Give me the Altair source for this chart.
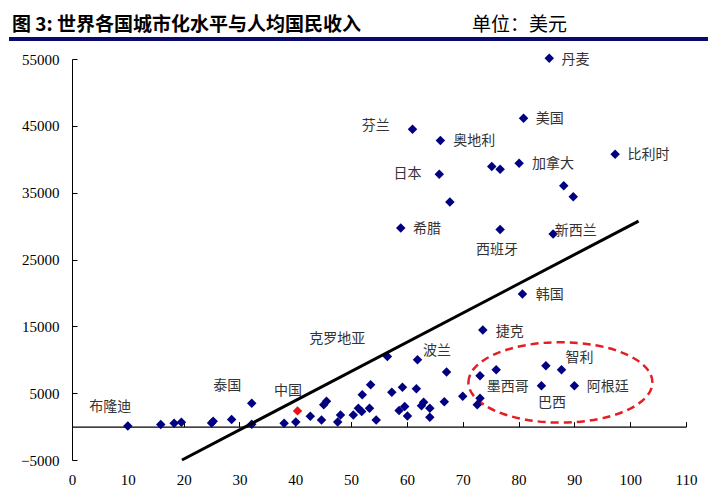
import altair as alt
import pandas as pd

# ---- data ----
urban = [10.0, 15.9, 18.3, 19.6, 25.0, 25.3, 28.6, 32.2, 32.2, 38.0, 40.1,
         42.7, 44.7, 45.1, 45.6, 47.6, 48.1, 50.4, 51.3, 51.9, 52.0, 53.3,
         53.5, 54.5, 56.5, 57.3, 58.6, 59.2, 59.6, 60.1, 61.7, 61.9, 62.6,
         63.0, 64.1, 64.1, 66.7, 67.1, 70.0, 72.6, 73.1, 73.1, 76.0, 73.6,
         84.9, 87.7, 84.1, 90.0, 80.7, 86.2, 76.7, 58.9, 67.7, 89.8, 88.1,
         65.8, 76.7, 75.2, 80.1, 97.3, 66.0, 61.0, 80.9, 85.5]
income = [100, 300, 500, 650, 550, 800, 1050, 3500, 350, 500, 700,
          1550, 1000, 3250, 3800, 700, 1750, 1750, 2750, 2250, 4750, 2750,
          6250, 1000, 10500, 5150, 2400, 5900, 3000, 1600, 5650, 10000, 3100,
          3650, 2750, 1400, 3700, 8150, 4550, 3250, 4250, 7600, 8500, 14450,
          9100, 8500, 6100, 6100, 19850, 28800, 29500, 29700, 33600, 34400, 36050,
          37750, 38500, 38900, 39400, 40750, 42800, 44500, 46150, 55100]

china_x = [40.4]
china_y = [2350]

label_names = ["丹麦", "美国", "芬兰", "奥地利", "比利时", "加拿大", "日本", "希腊",
               "西班牙", "新西兰", "韩国", "捷克", "克罗地亚", "波兰", "智利",
               "墨西哥", "阿根廷", "巴西", "泰国", "中国", "布隆迪"]
label_x = [87.7, 83.1, 51.9, 68.3, 99.5, 82.4, 57.6, 61.1,
           72.4, 86.5, 83.1, 75.9, 42.5, 62.9, 88.4,
           74.3, 92.2, 83.5, 25.3, 36.2, 3.1]
label_y = [54900, 46000, 45000, 42800, 40650, 39250, 37750, 29500,
           26450, 29300, 19700, 14200, 13100, 11350, 10250,
           5900, 5900, 3500, 6100, 5250, 2900]

line_x = [19.7, 101.5]
line_y = [-5000, 30750]

ellipse_x = [87.5]
ellipse_y = [6610]

x_ticks = list(range(0, 111, 10))
y_ticks = [-5000, 5000, 15000, 25000, 35000, 45000, 55000]

title_main = "图 3: 世界各国城市化水平与人均国民收入"
title_unit = "单位：美元"

# ---- layout ----
W, H = 614, 401
Y0_PX = H * 55000 / 60000  # pixel position of y = 0

xs = alt.Scale(domain=[0, 110], nice=False, zero=False)
ys = alt.Scale(domain=[-5000, 55000], nice=False, zero=False)

x_axis = alt.Axis(values=x_ticks, domain=False, ticks=False, grid=False, title=None,
                  labelFont="Liberation Serif", labelFontSize=15, labelColor="black",
                  labelPadding=12, labelFlush=False)
y_axis = alt.Axis(values=y_ticks, domain=True, domainColor="black", ticks=False, grid=False,
                  title=None, labelFont="Liberation Serif", labelFontSize=15,
                  labelColor="black", labelPadding=13, format="d")

pts = pd.DataFrame({"x": urban, "y": income})
china = pd.DataFrame({"x": china_x, "y": china_y})
labels = pd.DataFrame({"x": label_x, "y": label_y, "name": label_names})
line = pd.DataFrame({"x": line_x, "y": line_y})
ell = pd.DataFrame({"x": ellipse_x, "y": ellipse_y})
tmain = pd.DataFrame({"t": [title_main]})
tunit = pd.DataFrame({"t": [title_unit]})


def enc(chart):
    return chart.encode(
        x=alt.X("x:Q", scale=xs, axis=x_axis),
        y=alt.Y("y:Q", scale=ys, axis=y_axis),
    )


points = enc(alt.Chart(pts).mark_point(shape="diamond", filled=True, size=90,
                                        color="#000080", opacity=1))
china_pt = enc(alt.Chart(china).mark_point(shape="diamond", filled=True, size=90,
                                            color="#ee1111", opacity=1))
label_layer = enc(alt.Chart(labels).mark_text(align="left", baseline="middle",
                                               font="Noto Sans CJK SC", fontSize=14,
                                               color="#333333")).encode(text="name:N")

ellipse_path = ("M -1 0 C -1 -0.2413 -0.5523 -0.437 0 -0.437 "
                "C 0.5523 -0.437 1 -0.2413 1 0 "
                "C 1 0.2413 0.5523 0.437 0 0.437 "
                "C -0.5523 0.437 -1 0.2413 -1 0 Z")
ellipse = enc(alt.Chart(ell).mark_point(shape=ellipse_path, size=184 * 184, filled=False,
                                         color="#e31e24", strokeWidth=2.5,
                                         strokeDash=[8, 5], opacity=1))

title1 = alt.Chart(tmain).mark_text(align="left", baseline="middle",
                                     font="Noto Sans CJK SC", fontSize=19,
                                     fontWeight="bold", color="black").encode(
    text="t:N", x=alt.value(-60), y=alt.value(-34))
title2 = alt.Chart(tunit).mark_text(align="left", baseline="middle",
                                     font="Noto Sans CJK SC", fontSize=19,
                                     color="black").encode(
    text="t:N", x=alt.value(400), y=alt.value(-34))
bar = alt.Chart(tmain).mark_rule(color="#0a0a6e", strokeWidth=4).encode(
    x=alt.value(-63), x2=alt.value(636), y=alt.value(-20))

main = alt.layer(ellipse, points, china_pt, label_layer, title1, title2, bar)

# regression line carries the inward tick axes (x axis at y=0, y ticks pointing right)
reg = alt.Chart(line).mark_line(color="black", strokeWidth=3).encode(
    x=alt.X("x:Q", scale=xs,
            axis=alt.Axis(orient="top", offset=-Y0_PX, values=x_ticks, labels=False,
                          ticks=True, tickSize=5, tickColor="black", tickWidth=1,
                          domain=True, domainColor="black", domainWidth=1.2,
                          grid=False, title=None)),
    y=alt.Y("y:Q", scale=ys,
            axis=alt.Axis(orient="right", offset=-W, values=y_ticks, labels=False,
                          ticks=True, tickSize=5, tickColor="black", tickWidth=1,
                          domain=False, grid=False, title=None)),
)

chart = alt.layer(main, reg).resolve_scale(x="independent", y="independent").properties(
    width=W, height=H,
    padding={"left": 64, "top": 51, "right": 22, "bottom": 33},
    autosize=alt.AutoSizeParams(type="none"),
    background="white",
).configure_view(stroke=None)

chart.save("out.html", embed_options={"renderer": "svg", "actions": False})
